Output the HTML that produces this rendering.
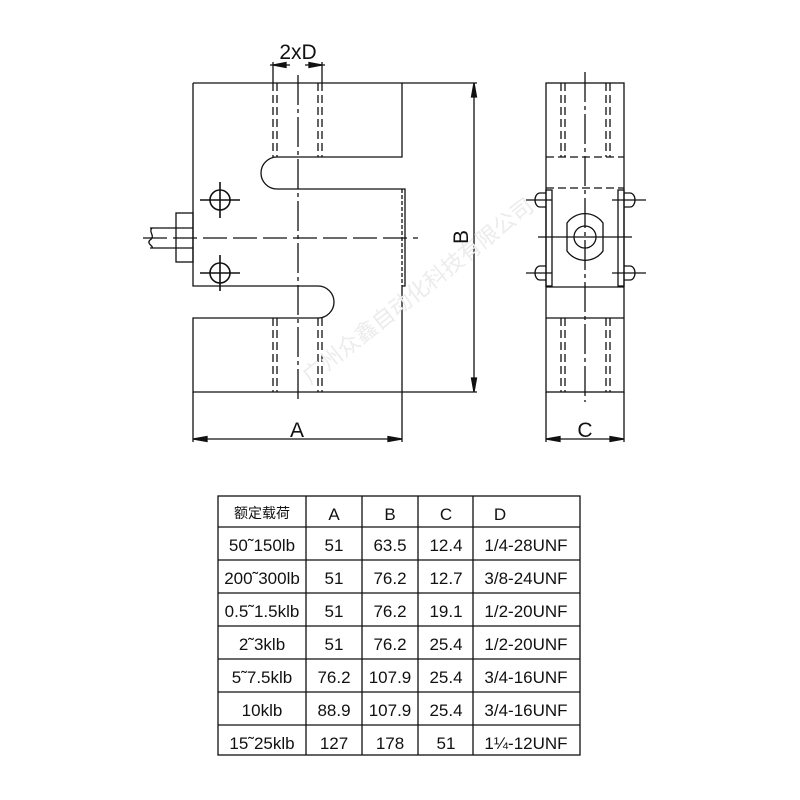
<!DOCTYPE html>
<html><head><meta charset="utf-8"><style>
html,body{margin:0;padding:0;background:#fff;}
svg{display:block}
text{font-family:"Liberation Sans","Noto Sans CJK SC",sans-serif;fill:#111;}
</style></head><body>
<svg width="800" height="800" viewBox="0 0 800 800" xmlns="http://www.w3.org/2000/svg">
<g stroke="#111" stroke-width="1.3" fill="none">
<path d="M193,83 H402 V157 H277 A16,16 0 0 0 277,189 H405 V286 H402 V392 H193 V318 H318 A16,16 0 0 0 318,286 H193 V83"/>
<line x1="402" y1="189" x2="402" y2="286" stroke-dasharray="4,2"/>
<line x1="402" y1="83" x2="477" y2="83"/>
<line x1="402" y1="392" x2="477" y2="392"/>
<g stroke-dasharray="8,4">
<line x1="273" y1="83" x2="273" y2="157"/><line x1="277" y1="83" x2="277" y2="157"/>
<line x1="318" y1="83" x2="318" y2="157"/><line x1="322" y1="83" x2="322" y2="157"/>
<line x1="273" y1="318" x2="273" y2="392"/><line x1="277" y1="318" x2="277" y2="392"/>
<line x1="318" y1="318" x2="318" y2="392"/><line x1="322" y1="318" x2="322" y2="392"/>
</g>
<line x1="298" y1="75" x2="298" y2="402" stroke-dasharray="30,4,4,4"/>
<line x1="143" y1="238" x2="418" y2="238" stroke-dasharray="24,6"/>
<line x1="273" y1="62" x2="273" y2="83"/><line x1="322" y1="62" x2="322" y2="83"/>
<line x1="270" y1="65" x2="290" y2="65"/><line x1="305" y1="65" x2="325" y2="65"/>
<path d="M273,65 L286,62.5 L286,67.5Z M322,65 L309,62.5 L309,67.5Z" fill="#111"/>
<g stroke-width="1.6">
<circle cx="220" cy="200" r="10"/><circle cx="220" cy="273" r="10"/>
<line x1="200" y1="200" x2="240" y2="200"/><line x1="220" y1="182" x2="220" y2="218"/>
<line x1="200" y1="273" x2="240" y2="273"/><line x1="220" y1="255" x2="220" y2="291"/>
</g>
<rect x="176" y="213" width="17" height="49"/>
<line x1="150" y1="228" x2="193" y2="228"/><line x1="150" y1="248" x2="193" y2="248"/>
<path d="M152,228 C148,232 156,236 150,240 C146,244 154,246 152,248"/>
<line x1="474" y1="83" x2="474" y2="392"/>
<path d="M474,83 L471.5,97 L476.5,97Z M474,392 L471.5,378 L476.5,378Z" fill="#111"/>
<line x1="193" y1="392" x2="193" y2="442"/><line x1="402" y1="392" x2="402" y2="442"/>
<line x1="193" y1="439" x2="402" y2="439"/>
<path d="M193,439 L207,436.5 L207,441.5Z M402,439 L388,436.5 L388,441.5Z" fill="#111"/>

<rect x="546" y="83" width="78" height="309"/>
<line x1="546" y1="157" x2="624" y2="157" stroke-dasharray="8,4"/>
<line x1="546" y1="188" x2="624" y2="188" stroke-dasharray="8,4"/>
<line x1="546" y1="287" x2="624" y2="287"/>
<line x1="546" y1="318" x2="624" y2="318"/>
<g stroke-dasharray="8,4">
<line x1="561" y1="83" x2="561" y2="157"/><line x1="565" y1="83" x2="565" y2="157"/>
<line x1="606" y1="83" x2="606" y2="157"/><line x1="610" y1="83" x2="610" y2="157"/>
<line x1="561" y1="318" x2="561" y2="392"/><line x1="565" y1="318" x2="565" y2="392"/>
<line x1="606" y1="318" x2="606" y2="392"/><line x1="610" y1="318" x2="610" y2="392"/>
</g>
<line x1="585" y1="72" x2="585" y2="402" stroke-dasharray="30,4,4,4"/>
<path d="M567,223 A22,22 0 0 1 603,223 L603,251 A22,22 0 0 1 567,251 Z"/>
<circle cx="585" cy="237" r="11"/>
<line x1="538" y1="237" x2="632" y2="237"/>
<rect x="546" y="190" width="6" height="96"/><rect x="618" y="190" width="6" height="96"/>
<path d="M546,193 H540 A5,7 0 0 0 540,207 H546"/>
<path d="M546,266 H540 A5,7 0 0 0 540,280 H546"/>
<path d="M624,193 H630 A5,7 0 0 1 630,207 H624"/>
<path d="M624,266 H630 A5,7 0 0 1 630,280 H624"/>
<line x1="526" y1="200" x2="552" y2="200"/><line x1="612" y1="200" x2="646" y2="200"/>
<line x1="526" y1="273" x2="552" y2="273"/><line x1="612" y1="273" x2="646" y2="273"/>
<line x1="546" y1="392" x2="546" y2="442"/><line x1="624" y1="392" x2="624" y2="442"/>
<line x1="546" y1="439" x2="624" y2="439"/>
<path d="M546,439 L560,436.5 L560,441.5Z M624,439 L610,436.5 L610,441.5Z" fill="#111"/>

<rect x="218" y="496" width="362" height="259"/>
<line x1="306" y1="496" x2="306" y2="755"/><line x1="362" y1="496" x2="362" y2="755"/>
<line x1="418" y1="496" x2="418" y2="755"/><line x1="473" y1="496" x2="473" y2="755"/>
<line x1="218" y1="527" x2="580" y2="527"/><line x1="218" y1="560" x2="580" y2="560"/>
<line x1="218" y1="593" x2="580" y2="593"/><line x1="218" y1="626" x2="580" y2="626"/>
<line x1="218" y1="659" x2="580" y2="659"/><line x1="218" y1="692" x2="580" y2="692"/>
<line x1="218" y1="725" x2="580" y2="725"/>
</g>
<g font-size="21">
<text x="298" y="59" text-anchor="middle">2xD</text>
<text x="297" y="437" text-anchor="middle">A</text>
<text x="585" y="437" text-anchor="middle">C</text>
<text x="468" y="237" text-anchor="middle" transform="rotate(-90 468 237)">B</text>
</g>
<text x="262" y="518" text-anchor="middle" font-size="14">额定载荷</text>
<g font-size="17" text-anchor="middle">
<text x="334" y="520">A</text><text x="390" y="520">B</text><text x="446" y="520">C</text><text x="500" y="520">D</text>
<text x="262" y="551">50˜150lb</text><text x="334" y="551">51</text><text x="390" y="551">63.5</text><text x="446" y="551">12.4</text><text x="526" y="551">1/4-28UNF</text>
<text x="262" y="584">200˜300lb</text><text x="334" y="584">51</text><text x="390" y="584">76.2</text><text x="446" y="584">12.7</text><text x="526" y="584">3/8-24UNF</text>
<text x="262" y="617">0.5˜1.5klb</text><text x="334" y="617">51</text><text x="390" y="617">76.2</text><text x="446" y="617">19.1</text><text x="526" y="617">1/2-20UNF</text>
<text x="262" y="650">2˜3klb</text><text x="334" y="650">51</text><text x="390" y="650">76.2</text><text x="446" y="650">25.4</text><text x="526" y="650">1/2-20UNF</text>
<text x="262" y="683">5˜7.5klb</text><text x="334" y="683">76.2</text><text x="390" y="683">107.9</text><text x="446" y="683">25.4</text><text x="526" y="683">3/4-16UNF</text>
<text x="262" y="716">10klb</text><text x="334" y="716">88.9</text><text x="390" y="716">107.9</text><text x="446" y="716">25.4</text><text x="526" y="716">3/4-16UNF</text>
<text x="262" y="749">15˜25klb</text><text x="334" y="749">127</text><text x="390" y="749">178</text><text x="446" y="749">51</text><text x="526" y="749">1¼-12UNF</text>
</g>
<text x="310" y="385" font-size="22" style="fill:#ececec" transform="rotate(-38 310 385)">广州众鑫自动化科技有限公司</text>
</svg>
</body></html>
